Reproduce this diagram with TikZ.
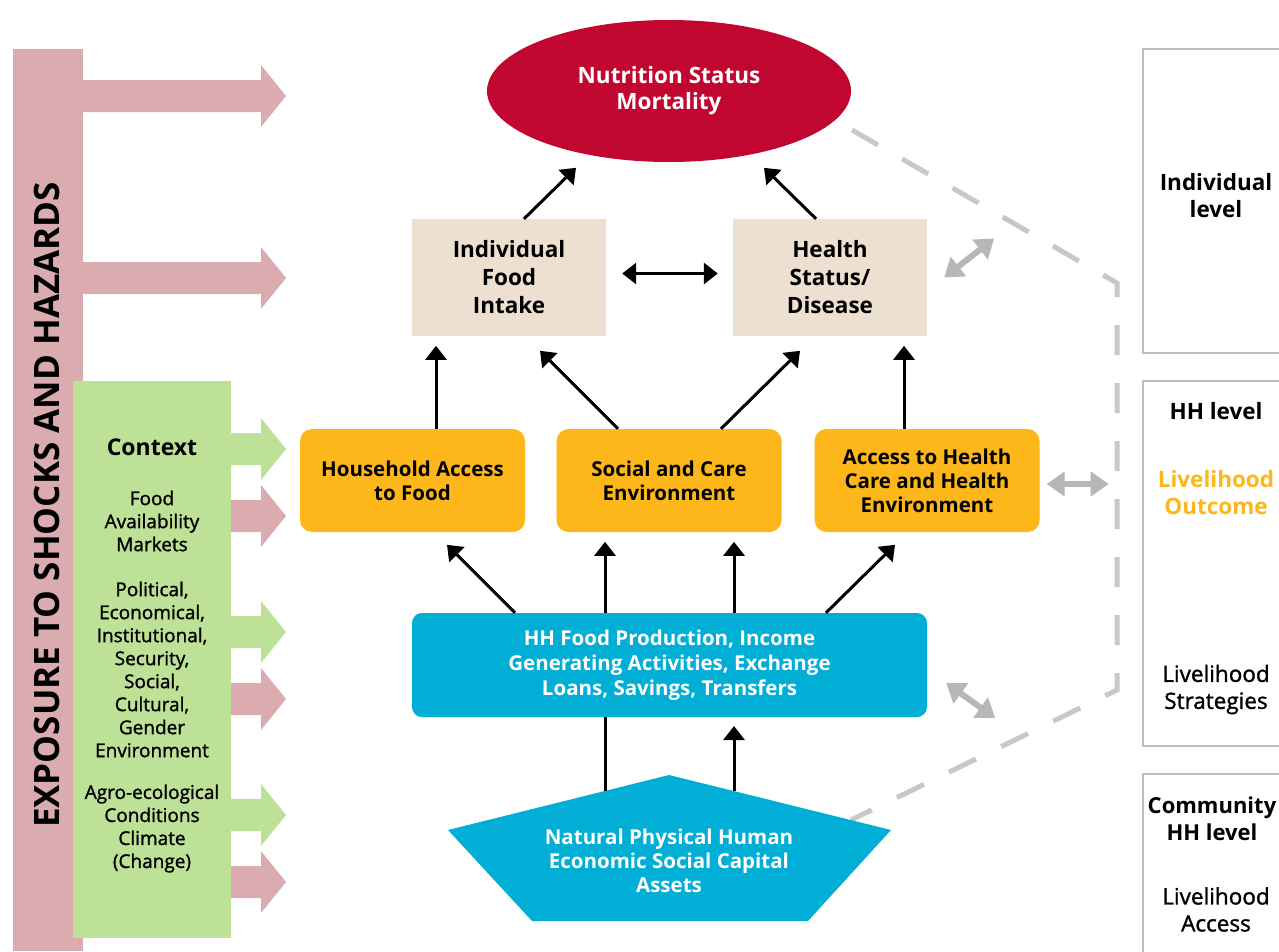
\documentclass[tikz,border=0pt]{standalone}
\usepackage{fontspec}
\setmainfont{Open Sans}
\newfontfamily\semibf[FakeBold=1.3]{Open Sans}
\usetikzlibrary{arrows.meta,shapes.geometric}

\definecolor{shockpink}{RGB}{219,172,175}
\definecolor{ctxgreen}{RGB}{189,225,150}
\definecolor{nutred}{RGB}{193,7,48}
\definecolor{intakebeige}{RGB}{237,224,208}
\definecolor{accessorange}{RGB}{253,183,27}
\definecolor{prodcyan}{RGB}{0,174,214}
\definecolor{dashgray}{RGB}{200,200,200}
\definecolor{arrgray}{RGB}{183,183,183}
\definecolor{boxgray}{RGB}{191,191,191}

\begin{document}
\begin{tikzpicture}[x=1pt,y=-1pt,
    every node/.style={align=center,inner sep=0pt,font=\bfseries\fontsize{20.5}{24}\selectfont},
    innerbox/.style={fill=intakebeige,minimum width=194pt,minimum height=117pt,font=\bfseries\fontsize{22.5}{28}\selectfont},
    accessbox/.style={fill=accessorange,rounded corners=12pt,minimum width=225pt,minimum height=103pt},
    prodbox/.style={fill=prodcyan,text=white,rounded corners=10pt,minimum width=515pt,minimum height=104pt,font=\bfseries\fontsize{20.5}{25}\selectfont},
    ctxtext/.style={font=\semibf\fontsize{19}{23}\selectfont},
    leveltext/.style={font=\bfseries\fontsize{22.5}{27}\selectfont},
    levelbody/.style={font=\semibf\fontsize{22.5}{27}\selectfont},
    levelbox/.style={draw=boxgray,line width=2pt},
    arr/.style={line width=3pt,-{Triangle[width=21pt,length=14pt]}},
    plainline/.style={line width=3pt},
    grayarr/.style={draw=arrgray,line width=6pt,{Triangle[width=24pt,length=18pt]}-{Triangle[width=24pt,length=18pt]}},
    dashline/.style={draw=dashgray,line width=5pt,dash pattern=on 30pt off 28pt}]

    \clip (0,0) rectangle (1279,951);
    \fill[white] (0,0) rectangle (1279,951);

    \fill[shockpink] (13,49) rectangle (83,951);
    \foreach \y in {96,278,516,699,882}
        \fill[shockpink] (83,\y-16) -- (261,\y-16) -- (261,\y-31) -- (286,\y) -- (261,\y+31) -- (261,\y+16) -- (83,\y+16) -- cycle;
    \node[rotate=90,font=\bfseries\fontsize{35}{40}\selectfont] (exposure) at (47,505) {EXPOSURE TO SHOCKS AND HAZARDS};

    \fill[ctxgreen] (73,381) rectangle (231,938);
    \foreach \y in {449,632,815}
        \fill[ctxgreen] (231,\y-16) -- (261,\y-16) -- (261,\y-31) -- (286,\y) -- (261,\y+31) -- (261,\y+16) -- (231,\y+16) -- cycle;
    \node[font=\bfseries\fontsize{23}{24}\selectfont] (context) at (152,447) {Context};
    \node[ctxtext] (markets) at (152,521) {Food\\Availability\\Markets};
    \node[ctxtext] (political) at (152,669.5) {Political,\\Economical,\\Institutional,\\Security,\\Social,\\Cultural,\\Gender\\Environment};
    \node[ctxtext] (climate) at (152,828.5) {Agro-ecological\\Conditions\\Climate\\(Change)};

    \coordinate (dashA) at (852,130);
    \coordinate (dashB) at (1117,283);
    \coordinate (dashC) at (1117,690);
    \coordinate (dashD) at (851,820);
    \draw[dashline] (dashA) -- (dashB) -- (dashC) -- (dashD);

    \node[ellipse,fill=nutred,text=white,minimum width=364pt,minimum height=142pt,font=\bfseries\fontsize{22.5}{26}\selectfont] (nutrition) at (669,91) {Nutrition Status\\Mortality};

    \node[innerbox] (intake) at (509,277.5) {Individual\\Food\\Intake};
    \node[innerbox] (health) at (830,277.5) {Health\\Status/\\Disease};

    \node[accessbox] (hhfood) at (412.5,480.5) {Household Access\\to Food};
    \node[accessbox] (social) at (669,480.5) {Social and Care\\Environment};
    \node[accessbox] (hcare) at (927,480.5) {Access to Health\\Care and Health\\Environment};

    \node[prodbox] (production) at (669.5,665) {HH Food Production, Income\\Generating Activities, Exchange\\Loans, Savings, Transfers};

    \fill[prodcyan] (669,775) -- (891,830) -- (808,921) -- (532,921) -- (448,830) -- cycle;
    \node[text=white] (assets) at (669,861) {Natural Physical Human\\Economic Social Capital\\Assets};
    \coordinate (assetsL) at (605,791);
    \coordinate (assetsR) at (734,791);

    \draw[arr] ([xshift=15pt]intake.north) -- ++(52,-51);
    \draw[arr] ([xshift=-14pt]health.north) -- ++(-52,-51);
    \draw[line width=3pt,{Triangle[width=21pt,length=14pt]}-{Triangle[width=21pt,length=14pt]}] ([xshift=16pt,yshift=4pt]intake.east) -- ([xshift=-15pt,yshift=4pt]health.west);

    \draw[arr] ([xshift=23.5pt]hhfood.north) -- ++(0,-83);
    \draw[arr] ([xshift=-51pt]social.north) -- ++(-78,-78);
    \draw[arr] ([xshift=52pt]social.north) -- ++(79,-78);
    \draw[arr] ([xshift=-23pt]hcare.north) -- ++(0,-83);

    \draw[arr] ([xshift=-154.5pt]production.north) -- ++(-68,-68);
    \draw[arr] ([xshift=-64.5pt]production.north) -- ++(0,-71);
    \draw[arr] ([xshift=64.5pt]production.north) -- ++(0,-71);
    \draw[arr] ([xshift=156.5pt]production.north) -- ++(69,-68);

    \draw[plainline] (assetsL) -- (assetsL |- production.south);
    \draw[arr] (assetsR) -- ++(0,-65);

    \draw[grayarr] ([xshift=17pt]health.east) -- ++(50,-39);
    \draw[grayarr] ([xshift=7pt,yshift=-3.5pt]hcare.east) -- ++(62,0);
    \draw[grayarr] ([xshift=19pt,yshift=-18pt]production.east) -- ++(49,35);

    \draw[levelbox] (1143,49) rectangle (1300,353);
    \draw[levelbox] (1143,381) rectangle (1300,746);
    \draw[levelbox] (1143,774) rectangle (1300,980);
    \node[leveltext] (indlevel) at (1216,195.5) {Individual\\level};
    \node[leveltext] (hhlevel) at (1216,411) {HH level};
    \node[leveltext,text=accessorange] (outcome) at (1216,492.5) {Livelihood\\Outcome};
    \node[levelbody] (strategies) at (1216,689.5) {Livelihood\\Strategies};
    \node[leveltext,font=\bfseries\fontsize{22}{27}\selectfont] (community) at (1212,819) {Community\\HH level};
    \node[levelbody] (access) at (1216,909.5) {Livelihood\\Access};
\end{tikzpicture}
\end{document}
